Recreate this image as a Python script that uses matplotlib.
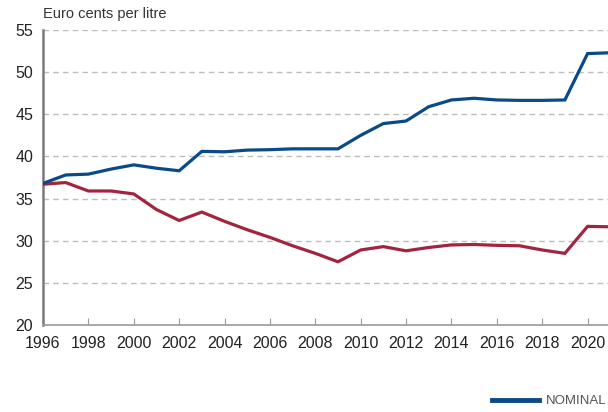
import matplotlib.pyplot as plt
from matplotlib.lines import Line2D

plt.rcParams['font.family'] = ['Liberation Sans', 'DejaVu Sans']

years = list(range(1996, 2022))
nominal = [36.8, 37.8, 37.9, 38.5, 39.0, 38.6, 38.3, 40.6, 40.55, 40.75, 40.8, 40.9, 40.9, 40.9,
           42.5, 43.9, 44.2, 45.9, 46.7, 46.9, 46.7, 46.65, 46.65, 46.7, 52.2, 52.3]
real = [36.7, 36.9, 35.9, 35.9, 35.55, 33.7, 32.4, 33.4, 32.3, 31.3, 30.4, 29.4, 28.5, 27.5,
        28.9, 29.3, 28.8, 29.2, 29.5, 29.55, 29.45, 29.4, 28.9, 28.5, 31.7, 31.65]
yticks = [20, 25, 30, 35, 40, 45, 50, 55]
xticks = list(range(1996, 2021, 2))

blue = '#0a4a86'
red = '#a3243f'

fig = plt.figure(figsize=(6.08, 4.12), dpi=100)
ax = fig.add_axes([43 / 608, (412 - 325) / 412, 1 - 43 / 608, 295 / 412])

ax.plot(years, real, color=red, lw=2.3, solid_joinstyle='miter', zorder=3)
ax.plot(years, nominal, color=blue, lw=2.3, solid_joinstyle='miter', zorder=4)

ax.set_xlim(1996, 2020.9)
ax.set_ylim(20, 55)
ax.set_yticks(yticks)
ax.set_xticks(xticks)
ax.grid(axis='y', color='#bdbdbd', linestyle=(0, (4, 3)), lw=1)
ax.set_axisbelow(True)

for s in ['top', 'right']:
    ax.spines[s].set_visible(False)
ax.spines['left'].set_color('#7a7a7a')
ax.spines['left'].set_linewidth(1.8)
ax.spines['bottom'].set_color('#9a9a9a')
ax.spines['bottom'].set_linewidth(1.2)

ax.tick_params(axis='y', length=0, pad=7, labelsize=11.5, labelcolor='#222222')
ax.tick_params(axis='x', direction='in', length=5, color='#9a9a9a', pad=8,
               labelsize=11.5, labelcolor='#222222')

fig.text(43 / 608, 1 - 14 / 412, 'Euro cents per litre', fontsize=10.5, color='#333333',
         ha='left', va='center')

# only the nominal key is visible in the original, the rest falls off the edge
handles = [Line2D([], [], color=blue, lw=3.5)]
fig.legend(handles, ['NOMINAL'], loc='center left',
           bbox_to_anchor=(480 / 608, 1 - 401 / 412), frameon=False,
           handlelength=3.6, handletextpad=0.5,
           prop={'family': ['Liberation Sans Narrow', 'Liberation Sans'], 'size': 9.5},
           labelcolor='#555555')

fig.savefig('out.png', dpi=100)
